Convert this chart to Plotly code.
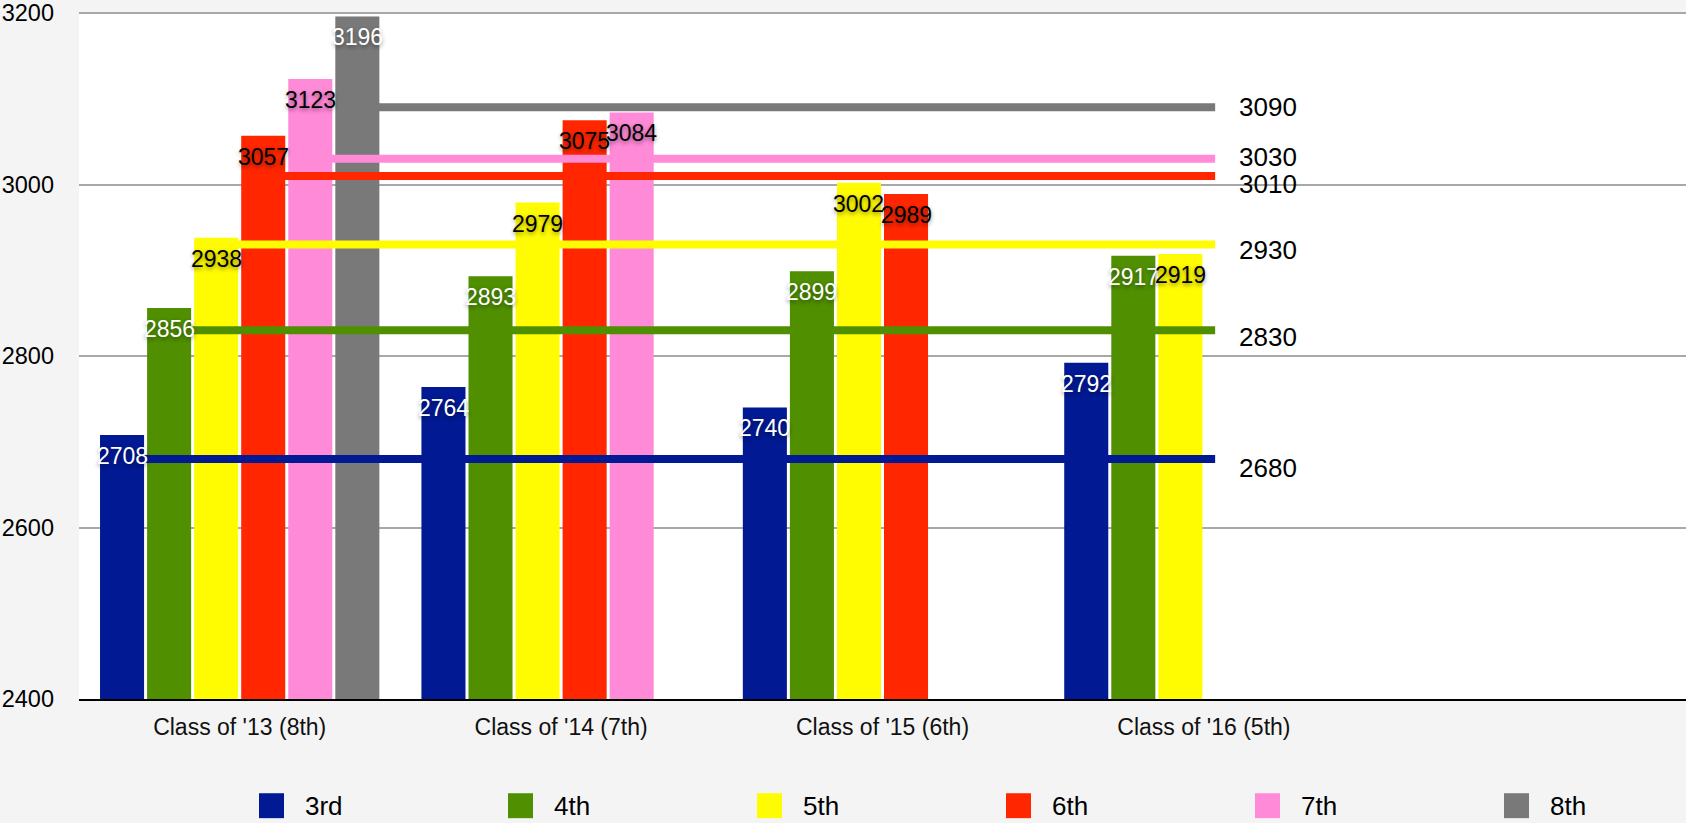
import plotly.graph_objects as go

# ---- data ----
categories = ["Class of '13 (8th)", "Class of '14 (7th)", "Class of '15 (6th)", "Class of '16 (5th)"]
grades = ["3rd", "4th", "5th", "6th", "7th", "8th"]

scores_3rd = [2708, 2764, 2740, 2792]
scores_4th = [2856, 2893, 2899, 2917]
scores_5th = [2938, 2979, 3002, 2919]
scores_6th = [3057, 3075, 2989, None]
scores_7th = [3123, 3084, None, None]
scores_8th = [3196, None, None, None]

targets = [2680, 2830, 2930, 3010, 3030, 3090]

y_ticks = [2400, 2600, 2800, 3000, 3200]

# ---- styling ----
colors = ["#011993", "#4F8F00", "#FFFB00", "#FF2600", "#FF8AD8", "#797979"]
label_colors = ["white", "white", "black", "black", "black", "white"]
target_label_shift = [-9, -7, -5, -8, 2, 0]  # vertical nudges (px) for the target labels
FONT = "Liberation Sans, Arial, Helvetica, sans-serif"
SHADOW = "0px 2px 4px rgba(0,0,0,0.45)"

W, H = 1686, 823
M_L, M_R, M_T, M_B = 79, 0, 10, 124
BARGAP = 0.1215
BARGROUPGAP = 0.064
N_SLOTS = 5  # category slots shown on the x axis
LINE_END_PAD = 0.035
Y_TOP = y_ticks[-1] + 1.2

series = [scores_3rd, scores_4th, scores_5th, scores_6th, scores_7th, scores_8th]
n_series = len(grades)
slot = (1 - BARGAP) / n_series


def slot_center(cat_idx, k):
    return cat_idx - (1 - BARGAP) / 2 + (k + 0.5) * slot


fig = go.Figure()

for k, (name, vals, col, tcol) in enumerate(zip(grades, series, colors, label_colors)):
    fig.add_trace(go.Bar(
        name=name,
        x=categories,
        y=vals,
        marker=dict(color=col, line=dict(width=0)),
        showlegend=False,
        hoverinfo="skip",
    ))
    # value label near the top of each bar
    for i, v in enumerate(vals):
        if v is None:
            continue
        fig.add_annotation(
            x=slot_center(i, k), y=v, xref="x2", yref="y",
            text=str(v), showarrow=False,
            xanchor="center", yanchor="middle", yshift=-21,
            font=dict(family=FONT, size=23, color=tcol, shadow=SHADOW),
        )

# target lines: start at each grade's bar in the first class, run past the last class
last_cat = len(categories) - 1
for k, (t, col) in enumerate(zip(targets, colors)):
    x_start = slot_center(0, k)
    x_end = last_cat + LINE_END_PAD
    fig.add_trace(go.Scatter(
        x=[x_start, x_end], y=[t, t],
        mode="lines",
        line=dict(color=col, width=8),
        xaxis="x2", yaxis="y",
        showlegend=False, hoverinfo="skip",
    ))
    fig.add_annotation(
        x=x_end, y=t, xref="x2", yref="y",
        text=str(t), showarrow=False,
        xanchor="left", yanchor="middle", xshift=22, yshift=target_label_shift[k],
        font=dict(family=FONT, size=26, color="black"),
    )

# legend drawn as large square swatches along the bottom
plot_w = W - M_L - M_R
plot_h = H - M_T - M_B
LEG_X0, LEG_STEP, LEG_Y, SW = 259, 249, 806, 25


def px_to_paper(px, py):
    return (px - M_L) / plot_w, (H - M_B - py) / plot_h


for i, (name, col) in enumerate(zip(grades, colors)):
    sx = LEG_X0 + i * LEG_STEP
    x0, y0 = px_to_paper(sx, LEG_Y + SW / 2)
    x1, y1 = px_to_paper(sx + SW, LEG_Y - SW / 2)
    fig.add_shape(type="rect", xref="paper", yref="paper",
                  x0=x0, x1=x1, y0=y0, y1=y1,
                  fillcolor=col, line=dict(width=0))
    tx, ty = px_to_paper(sx + SW + 19, LEG_Y)
    fig.add_annotation(x=tx, y=ty, xref="paper", yref="paper",
                       text=name, showarrow=False,
                       xanchor="left", yanchor="middle",
                       font=dict(family=FONT, size=26, color="black"))

fig.update_layout(
    width=W, height=H,
    margin=dict(l=M_L, r=M_R, t=M_T, b=M_B, pad=0),
    paper_bgcolor="#F4F4F4",
    plot_bgcolor="white",
    barmode="group",
    bargap=BARGAP,
    bargroupgap=BARGROUPGAP,
    showlegend=False,
    font=dict(family=FONT, color="black"),
    xaxis=dict(
        type="category",
        range=[-0.5, N_SLOTS - 0.5],
        showgrid=False,
        showline=True, linecolor="black", linewidth=2,
        ticks="", ticklabelstandoff=6,
        tickfont=dict(family=FONT, size=23, color="#111111"),
        zeroline=False,
    ),
    xaxis2=dict(
        overlaying="x", range=[-0.5, N_SLOTS - 0.5],
        visible=False, showgrid=False, zeroline=False,
    ),
    yaxis=dict(
        range=[y_ticks[0], Y_TOP],
        tickvals=y_ticks,
        showgrid=True, gridcolor="#A8A8A8", gridwidth=2,
        zeroline=False, showline=False,
        ticks="", ticklabelstandoff=24,
        ticklabeloverflow="allow",
        tickfont=dict(family=FONT, size=23.5, color="black"),
    ),
)

fig.write_html("out.html")
